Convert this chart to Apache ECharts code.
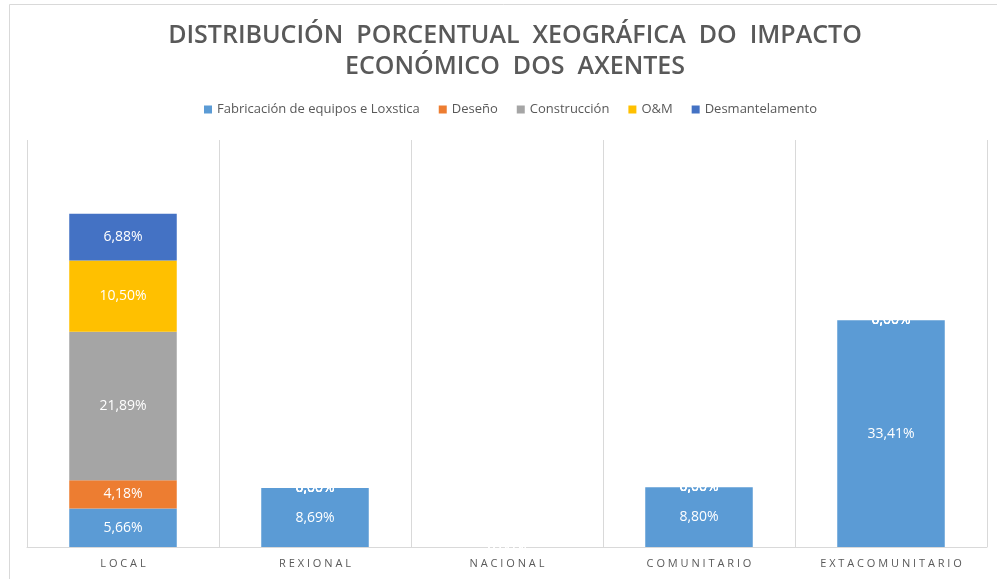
<!DOCTYPE html>
<html>
<head>
<meta charset="utf-8">
<script src="https://cdn.jsdelivr.net/npm/echarts@6/dist/echarts.min.js"></script>
<style>html,body{margin:0;padding:0;background:#fff;}#c{width:997px;height:579px;}</style>
</head>
<body>
<div id="c"></div>
<script>
var categories = ['LOCAL', 'REXIONAL', 'NACIONAL', 'COMUNITARIO', 'EXTACOMUNITARIO'];
var seriesNames = ['Fabricación de equipos e Loxstica', 'Deseño', 'Construcción', 'O&M', 'Desmantelamento'];
var fabricacion = [5.66, 8.69, 0, 8.80, 33.41];
var deseno = [4.18, 0, 0, 0, 0];
var construccion = [21.89, 0, 0, 0, 0];
var oym = [10.50, 0, 0, 0, 0];
var desmantelamento = [6.88, 0, 0, 0, 0];
var colors = ['#5B9BD5', '#ED7D31', '#A5A5A5', '#FFC000', '#4472C4'];
var values = [fabricacion, deseno, construccion, oym, desmantelamento];

var chart = echarts.init(document.getElementById('c'));
var FONT = 'Open Sans';
function fmt(v) { return v.toFixed(2).replace('.', ',') + '%'; }
var series = seriesNames.map(function (n, i) {
  return {
    name: n, type: 'bar', stack: 'total', barWidth: '56%',
    data: values[i],
    itemStyle: { color: colors[i] },
    label: {
      show: true, position: 'inside', color: '#fff', fontFamily: FONT, fontSize: 14,
      formatter: function (p) { return fmt(p.value); }
    }
  };
});
chart.setOption({
  animation: false,
  backgroundColor: '#fff',
  title: {
    text: 'DISTRIBUCIÓN  PORCENTUAL  XEOGRÁFICA  DO  IMPACTO\nECONÓMICO  DOS  AXENTES',
    left: 510, top: 15, textAlign: 'center',
    textStyle: { fontFamily: FONT, fontSize: 25, fontWeight: 600, color: '#595959', lineHeight: 31 }
  },
  legend: {
    left: 199, top: 98, itemWidth: 8, itemHeight: 8, itemGap: 19, icon: 'rect',
    textStyle: { fontFamily: FONT, fontSize: 13, color: '#595959' },
    data: seriesNames
  },
  grid: { left: 27, right: 10, top: 140, bottom: 32, containLabel: false },
  xAxis: {
    type: 'category', data: categories,
    axisLine: { lineStyle: { color: '#D9D9D9', width: 1 } },
    axisTick: { show: false },
    splitLine: { show: true, interval: 0, lineStyle: { color: '#D9D9D9', width: 1 } },
    axisLabel: { interval: 0, fontFamily: FONT, fontSize: 11, color: '#595959', margin: 11,
      formatter: function (v) { return v.split('').join(' '); } }
  },
  yAxis: { type: 'value', min: 0, max: 60, interval: 10, show: false, splitLine: { show: false } },
  graphic: [{ type: 'rect', shape: { x: 9.5, y: 4.5, width: 1000, height: 600 }, style: { fill: 'none', stroke: '#D9D9D9', lineWidth: 1 }, silent: true, z: -10 }],
  series: series
});
</script>
</body>
</html>
